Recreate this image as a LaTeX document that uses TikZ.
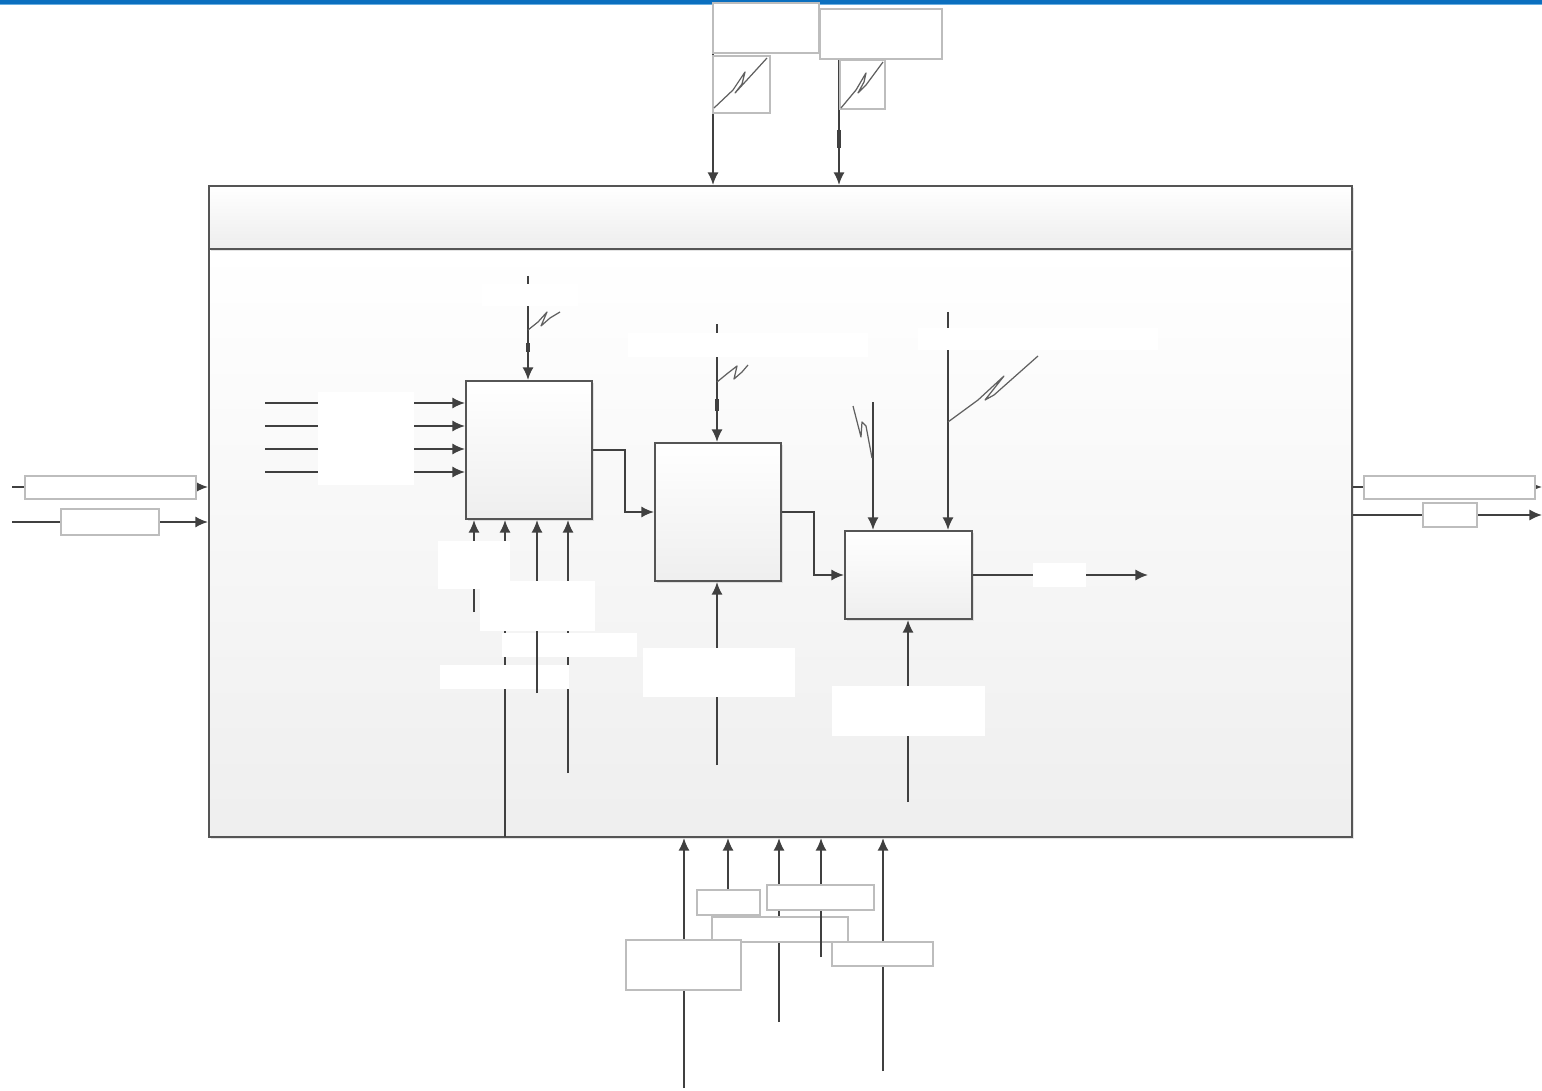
\documentclass[tikz,border=0pt]{standalone}
\usepackage{tikz}
\usepackage{xcolor}
\usetikzlibrary{arrows.meta,fit,shadows}

\definecolor{barblue}{HTML}{0B6FBF}
\definecolor{barlight}{HTML}{6AAEE0}
\definecolor{linegray}{HTML}{404040}
\definecolor{framegray}{HTML}{555555}
\definecolor{tagedge}{HTML}{BDBDBD}

\tikzset{
  flow/.style={draw=linegray, line width=0.55pt, -{Latex[length=3.6pt,width=3.2pt]}},
  wire/.style={draw=linegray, line width=0.55pt},
  actbox/.style={draw=framegray, line width=0.6pt, inner sep=0pt, top color=white, bottom color=gray!13,
    drop shadow={shadow xshift=0.5pt, shadow yshift=-0.5pt, opacity=0.35, fill=gray!60}},
  tag/.style={fill=white, inner sep=0pt},
  outtag/.style={tag, draw=tagedge, line width=0.4pt},
  scribble/.style={draw=gray!75!black, line width=0.35pt, line join=round},
}

\begin{document}
\begin{tikzpicture}[x=0.01cm, y=-0.01cm]
\useasboundingbox (0,0) rectangle (1542,1091);
% top bar
\fill[barblue] (0,0) rectangle (1542,4);
\fill[barlight] (0,4) rectangle (1542,5.5);

% outer frame
\node[actbox, top color=white, bottom color=gray!13, fit={(209,249) (1352,837)}] (body) {};
\node[actbox, top color=white, bottom color=gray!14, fit={(209,186) (1352,249)}] (title) {};

% steps
\node[actbox, fit={(466,381) (592,519)}] (step1) {};
\node[actbox, fit={(655,443) (781,581)}] (step2) {};
\node[actbox, fit={(845,531) (972,619)}] (step3) {};

% controls from above
\coordinate (ctl1) at (713,28);
\coordinate (ctl2) at (839,59);
\draw[flow] (ctl1) -- (ctl1 |- title.north);
\draw[flow] (ctl2) -- (ctl2 |- title.north);
\draw[wire, line width=1.2pt] (839,130) -- (839,148);
\node[outtag, fit={(713,3) (819,53)}] (topA) {};
\node[outtag, fit={(820,9) (942,59)}] (topB) {};
\node[outtag, fill=none, fit={(713,56) (770,113)}] (sigA) {};
\node[outtag, fill=none, fit={(840,60) (885,109)}] (sigB) {};
\draw[scribble] (714,108) -- (733,90) -- (745,72) -- (742,84) -- (735,93) -- (746,81) -- (767,58);
\draw[scribble] (841,108) -- (856,90) -- (866,73) -- (864,82) -- (858,93) -- (866,85) -- (883,62);

% inputs
\coordinate (in1) at (12,487);
\coordinate (in2) at (12,522);
\draw[flow] (in1) -- (in1 -| body.west);
\draw[flow] (in2) -- (in2 -| body.west);
\node[outtag, fit={(25,476) (196,499)}] (inA) {};
\node[outtag, fit={(61,509) (159,535)}] (inB) {};

% outputs
\coordinate (out1) at (1542,487);
\coordinate (out2) at (1542,515);
\draw[flow] (out1 -| body.east) -- (out1);
\draw[flow] (out2 -| body.east) -- (out2);
\node[outtag, fit={(1364,476) (1535,499)}] (outA) {};
\node[outtag, fit={(1423,503) (1477,527)}] (outB) {};

% step 1
\foreach \y in {403,426,449,472}{
  \coordinate (src) at (265,\y);
  \draw[flow] (src) -- (src -| step1.west);
}
\node[tag, fit={(318,392) (414,485)}] (srclist) {};
\coordinate (c1) at (528,276);
\draw[flow] (c1) -- (c1 |- step1.north);
\node[tag, fit={(482,284) (578,306)}] (c1tag) {};
\draw[wire, line width=1.1pt] (528,343) -- (528,352);
\draw[scribble] (528,330) -- (538,322) -- (547,312) -- (541,326) -- (550,318) -- (560,312);
\coordinate (m1) at (474,612);
\coordinate (m2) at (505,837);
\coordinate (m3) at (537,693);
\coordinate (m4) at (568,773);
\draw[flow] (m1) -- (m1 |- step1.south);
\draw[flow] (m2) -- (m2 |- step1.south);
\draw[flow] (m4) -- (m4 |- step1.south);
\node[tag, fit={(502,633) (637,657)}] (m3tag) {};
\node[tag, fit={(440,665) (569,689)}] (m4tag) {};
\draw[flow] (m3) -- (m3 |- step1.south);
\node[tag, fit={(438,541) (510,589)}] (m1tag) {};
\node[tag, fit={(480,581) (595,631)}] (m2tag) {};

% step 1 -> step 2 -> step 3
\draw[flow] (step1.east) -- ++(32,0) |- (step2.west);
\draw[flow] (step2.east) -- ++(32,0) |- (step3.west);

% step 2
\coordinate (c2) at (717,324);
\draw[flow] (c2) -- (c2 |- step2.north);
\node[tag, fit={(628,333) (868,357)}] (c2tag) {};
\draw[wire, line width=1.1pt] (717,399) -- (717,411);
\draw[scribble] (717,382) -- (728,373) -- (737,366) -- (734,379) -- (742,372) -- (748,365);
\coordinate (m5) at (717,765);
\draw[flow] (m5) -- (m5 |- step2.south);
\node[tag, fit={(643,648) (795,697)}] (m5tag) {};

% step 3
\coordinate (c3) at (873,402);
\coordinate (c4) at (948,312);
\draw[flow] (c3) -- (c3 |- step3.north);
\draw[flow] (c4) -- (c4 |- step3.north);
\node[tag, fit={(918,328) (1158,350)}] (c4tag) {};
\draw[scribble] (853,406) -- (861,437) -- (862,422) -- (866,426) -- (872,458);
\draw[scribble] (948,422) -- (978,400) -- (1004,376) -- (985,400) -- (994,395) -- (1038,356);
\coordinate (m6) at (908,802);
\draw[flow] (m6) -- (m6 |- step3.south);
\node[tag, fit={(832,686) (985,736)}] (m6tag) {};
\coordinate (res) at (1148,575);
\draw[flow] (step3.east) -- (res);
\node[tag, fit={(1033,563) (1086,587)}] (restag) {};

% mechanisms from below
\coordinate (b1) at (684,1088);
\coordinate (b2) at (728,916);
\coordinate (b3) at (779,1022);
\coordinate (b4) at (821,957);
\coordinate (b5) at (883,1071);
\draw[flow] (b1) -- (b1 |- body.south);
\draw[flow] (b2) -- (b2 |- body.south);
\draw[flow] (b3) -- (b3 |- body.south);
\node[outtag, fit={(712,917) (848,942)}] (botmid) {};
\draw[flow] (b4) -- (b4 |- body.south);
\draw[flow] (b5) -- (b5 |- body.south);
\node[outtag, fit={(626,940) (741,990)}] (botleft) {};
\node[outtag, fit={(832,942) (933,966)}] (botright) {};
\node[outtag, fit={(697,890) (760,915)}] (botA) {};
\node[outtag, fit={(767,885) (874,910)}] (botB) {};
\end{tikzpicture}
\end{document}
